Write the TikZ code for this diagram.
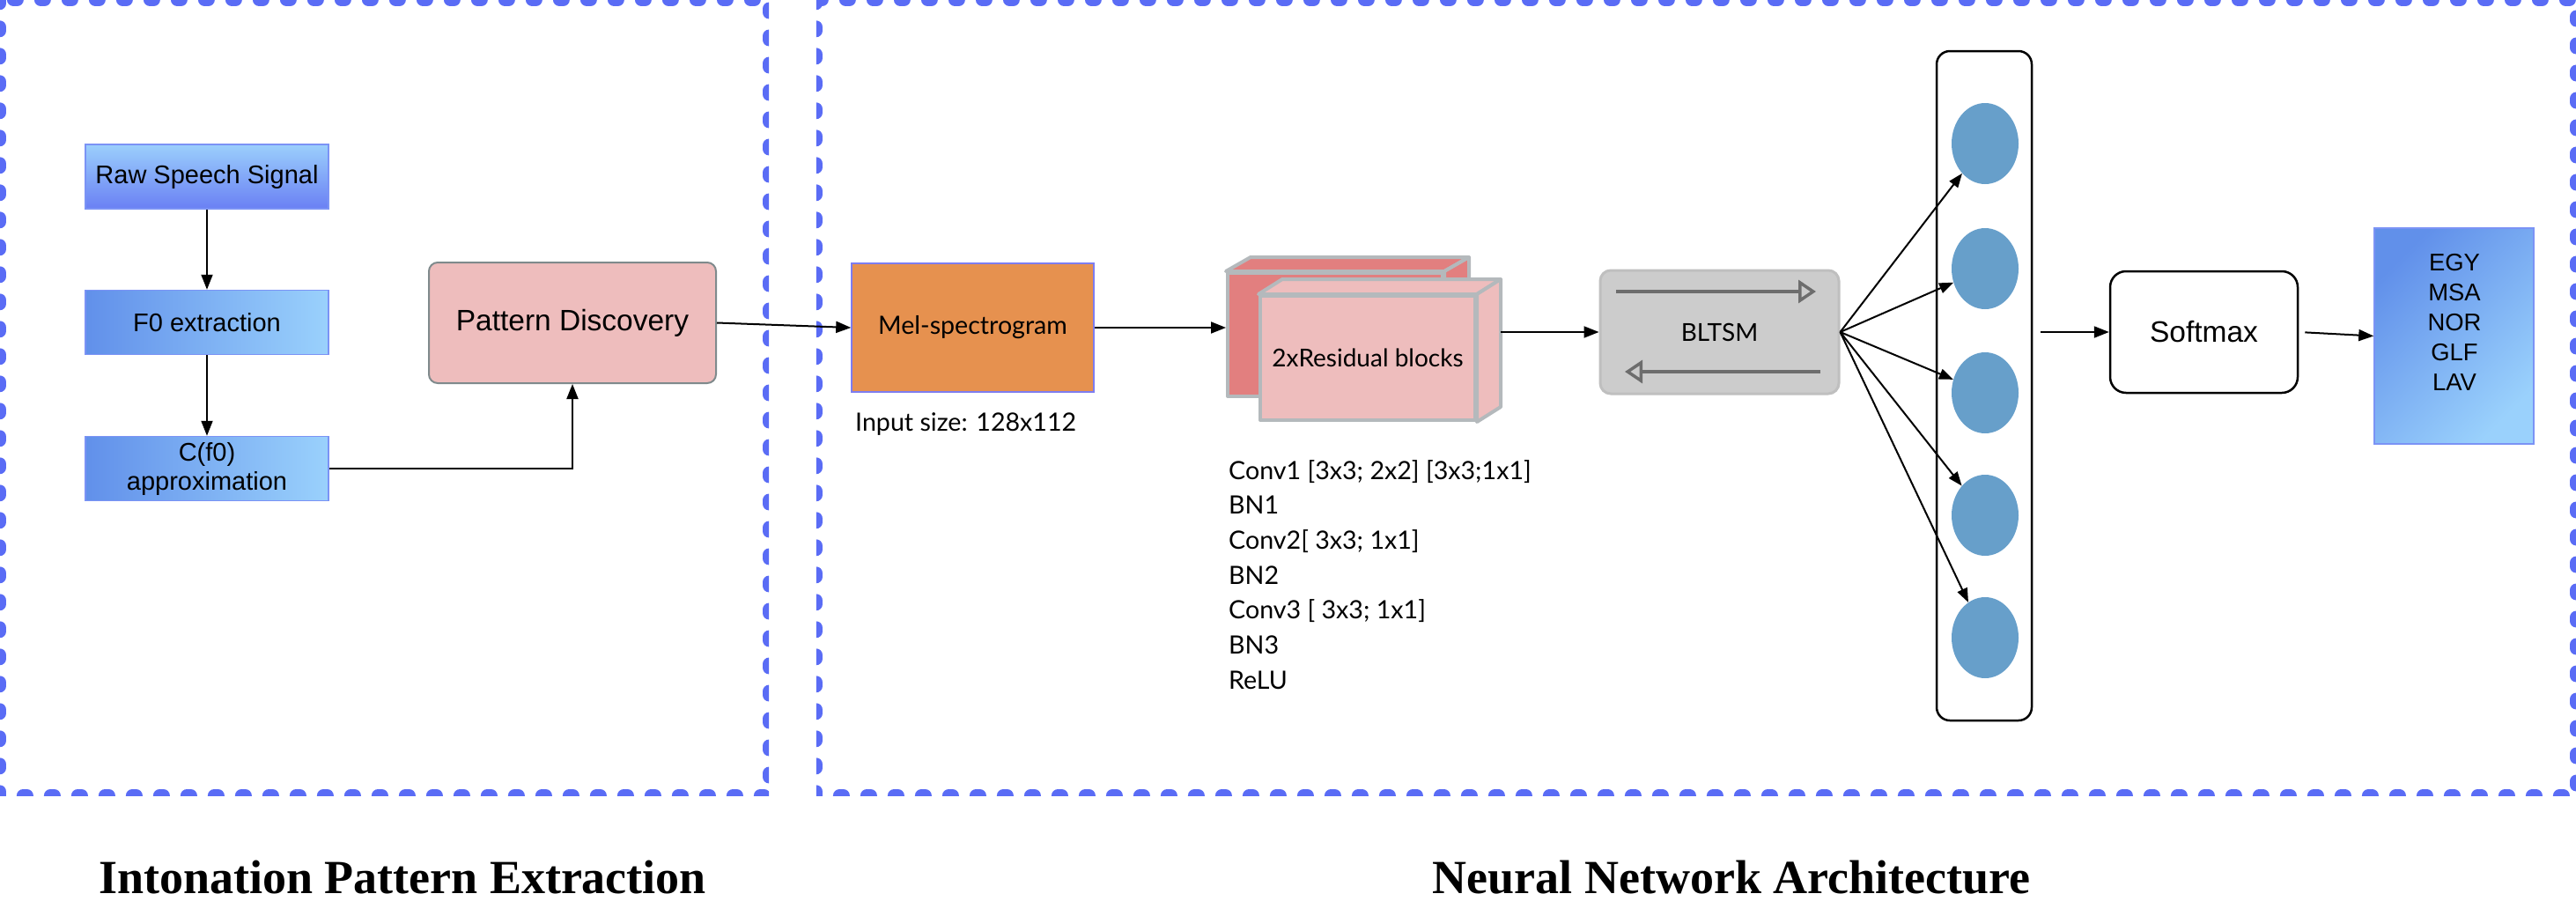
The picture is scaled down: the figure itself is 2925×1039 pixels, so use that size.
\documentclass[tikz,border=0pt]{standalone}
\usepackage{fontspec}
\setmainfont{Liberation Sans}
\newfontfamily\avfont{Lato}
\newfontfamily\titlefont{Liberation Serif}
\usetikzlibrary{arrows.meta,shapes.geometric,calc}
\definecolor{dashblue}{HTML}{5A6CF5}
\definecolor{boxborder}{HTML}{7B93F5}
\definecolor{gdark}{HTML}{6190EA}
\definecolor{glight}{HTML}{9AD1FC}
\definecolor{rawtop}{HTML}{9BCFFC}
\definecolor{rawbot}{HTML}{6A80F4}
\definecolor{pinkA}{HTML}{EEBDBD}
\definecolor{pdborder}{HTML}{7F8A8C}
\definecolor{melorange}{HTML}{E6914F}
\definecolor{melborder}{HTML}{7D7DF0}
\definecolor{resdark}{HTML}{E27F7F}
\definecolor{cubeedge}{HTML}{B4B9BC}
\definecolor{bltfill}{HTML}{CCCCCC}
\definecolor{bltborder}{HTML}{BFBFBF}
\definecolor{bltarrowc}{HTML}{6D6D6D}
\definecolor{neuronc}{HTML}{679FCA}
\tikzset{
  panel/.style={rectangle, inner sep=0pt},
  dashline/.style={draw=dashblue, line width=15pt, dash pattern=on 4pt off 27pt, line cap=round},
  bluebox/.style={draw=boxborder, line width=1.5pt, minimum width=276pt, minimum height=73pt, inner sep=0pt, font=\fontsize{29}{33}\selectfont, align=center},
  hgrad/.style={left color=gdark, right color=glight},
  arr/.style={-{Triangle[length=17pt,width=13pt]}, line width=2pt},
  fanarr/.style={-{Triangle[length=16pt,width=12pt]}, line width=2pt},
  bltarrow/.style={-{Triangle[open,length=20pt,width=26pt]}, line width=3.5pt, draw=bltarrowc},
  cubeface/.style={draw=cubeedge, line width=4pt, rectangle, inner sep=0pt, line join=round},
  cubeside/.style={draw=cubeedge, line width=4pt, line join=round},
  neuron/.style={ellipse, fill=neuronc, minimum width=76pt, minimum height=92pt, inner sep=0pt},
  avtext/.style={font=\avfont\fontsize{28.6}{32}\selectfont},
  titletext/.style={font=\titlefont\bfseries\fontsize{54}{60}\selectfont, anchor=base, inner sep=0pt}
}
\begin{document}
\begin{tikzpicture}[x=1pt,y=-1pt]
\useasboundingbox (0,0) rectangle (2925,1039);
% panels
\node[panel, minimum width=873pt, minimum height=903pt] (lp) at (436.5,451.5) {};
\node[panel, minimum width=1998pt, minimum height=903pt] (rp) at (1926,451.5) {};
\begin{scope}
  \clip (lp.north west) rectangle (lp.south east);
  \draw[dashline] (lp.north west) rectangle (lp.south east);
\end{scope}
\begin{scope}
  \clip (rp.north west) rectangle (rp.south east);
  \draw[dashline] (rp.north west) rectangle (rp.south east);
\end{scope}
% left panel
\node[bluebox, top color=rawtop, bottom color=rawbot] (raw) at (235,200.5) {Raw Speech Signal};
\node[bluebox, hgrad] (f0) at (235,366) {F0 extraction};
\node[bluebox, hgrad] (cf) at (235,532) {C(f0)\\approximation};
\node[draw=pdborder, fill=pinkA, rounded corners=10pt, line width=2pt, minimum width=326pt, minimum height=137pt, inner sep=0pt, font=\fontsize{33.5}{38}\selectfont] (pd) at (650,366.5) {Pattern Discovery};
\draw[arr] (raw) -- (f0);
\draw[arr] (f0) -- (cf);
\draw[arr] (cf.east) -| (pd.south);
% mel
\node[draw=melborder, fill=melorange, line width=1.5pt, minimum width=275pt, minimum height=146pt, inner sep=0pt, avtext] (mel) at (1104.5,372) {Mel-spectrogram};
\node[anchor=west, inner sep=0pt, avtext] (insize) at (971,482) {Input size: 128x112};
\draw[arr] (pd.east) -- (mel.west);
% residual blocks
\node[cubeface, fill=resdark, minimum width=244pt, minimum height=140pt] (resback) at (1516,380) {};
\filldraw[cubeside, fill=resdark] (resback.north west) -- ++(28,-16) -- ($(resback.north east)+(28,-16)$) -- (resback.north east) -- cycle;
\filldraw[cubeside, fill=resdark] (resback.north east) -- ++(28,-16) -- ($(resback.south east)+(28,-16)$) -- (resback.south east) -- cycle;
\node[cubeface, fill=pinkA, minimum width=244pt, minimum height=141pt, font=\avfont\fontsize{28}{32}\selectfont] (res) at (1553,406.5) {2xResidual blocks};
\filldraw[cubeside, fill=pinkA] (res.north west) -- ++(27,-17) -- ($(res.north east)+(27,-17)$) -- (res.north east) -- cycle;
\filldraw[cubeside, fill=pinkA] (res.north east) -- ++(27,-17) -- ($(res.south east)+(27,-17)$) -- (res.south east) -- cycle;
\draw[arr] (mel.east) -- (mel.east -| resback.west);
\foreach \t [count=\i] in {{Conv1 [3x3; 2x2] [3x3;1x1]},BN1,{Conv2[ 3x3; 1x1]},BN2,{Conv3 [ 3x3; 1x1]},BN3,ReLU}
  \node[anchor=base west, inner sep=0pt, avtext] (conv\i) at (1395,{544+39.7*(\i-1)}) {\t};
% BLTSM
\node[draw=bltborder, fill=bltfill, rounded corners=12pt, line width=3pt, minimum width=271pt, minimum height=140pt, inner sep=0pt, font=\avfont\fontsize{28}{32}\selectfont] (blt) at (1952.5,377) {BLTSM};
\draw[bltarrow] ($(blt.center)+(-117.5,-46)$) -- ($(blt.center)+(109.5,-46)$);
\draw[bltarrow] ($(blt.center)+(114.5,45)$) -- ($(blt.center)+(-107.5,45)$);
\coordinate (resout) at ($(res.east)+(27,-29.5)$);
\draw[arr] (resout) -- (resout -| blt.west);
% neuron column
\node[draw, rounded corners=15pt, line width=2.5pt, minimum width=108pt, minimum height=760pt] (col) at (2253,438) {};
\foreach \i/\y in {1/163,2/305,3/446,4/585,5/724}
  \node[neuron] (c\i) at (2254,\y) {};
\coordinate (fan) at (blt.east);
\foreach \i in {1,...,5}
  \draw[fanarr] (fan) -- (c\i);
% softmax and output
\node[draw, rounded corners=18pt, line width=2.5pt, minimum width=213pt, minimum height=138pt, inner sep=0pt, font=\fontsize{33.5}{38}\selectfont] (sm) at (2502.5,377) {Softmax};
\draw[arr, shorten <=9pt] (col.east |- sm.west) -- (sm.west);
\node[draw=boxborder, line width=1.5pt, top color=gdark, bottom color=glight, shading angle=45, minimum width=181pt, minimum height=245pt, inner sep=0pt] (out) at (2786.5,381.5) {};
\node[font=\fontsize{27.4}{34}\selectfont, align=center, inner sep=0pt] (outtxt) at (2787,366) {EGY\\MSA\\NOR\\GLF\\LAV};
\draw[arr, shorten <=7pt] (sm.east) -- (out.west);
% titles
\node[titletext] (t1) at (457,1014) {Intonation Pattern Extraction};
\node[titletext] (t2) at (1966,1014) {Neural Network Architecture};
\end{tikzpicture}
\end{document}
